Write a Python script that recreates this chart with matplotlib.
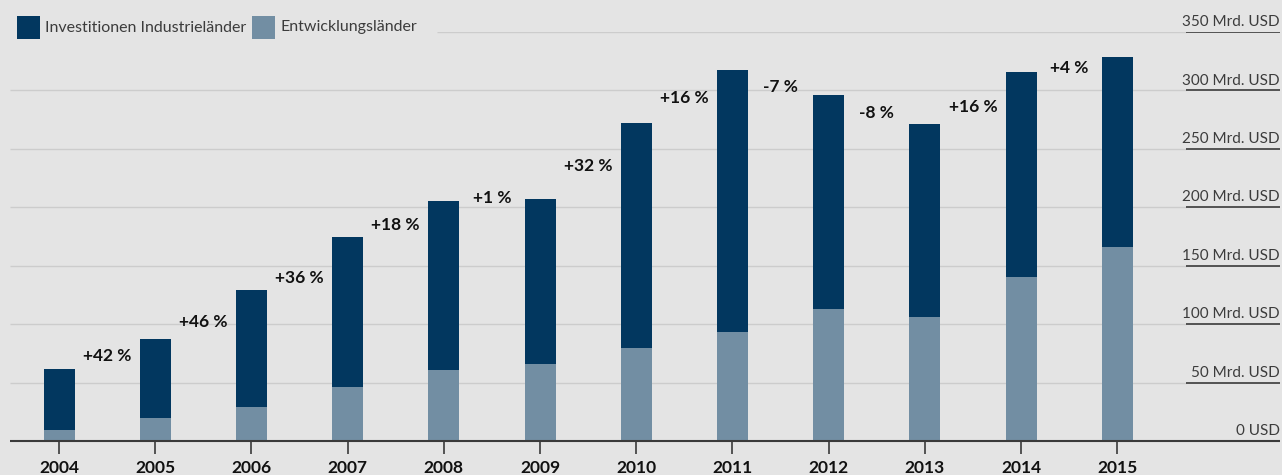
import matplotlib
matplotlib.use("Agg")
import matplotlib.pyplot as plt
from matplotlib.patches import Rectangle

plt.rcParams['font.family'] = ['Lato', 'DejaVu Sans']

years = ["2004", "2005", "2006", "2007", "2008", "2009", "2010", "2011", "2012", "2013", "2014", "2015"]
entwicklung = [9.4, 19.7, 29.1, 46.2, 60.8, 65.9, 79.6, 93.3, 113.0, 106.2, 140.4, 166.0]
industrie = [52.2, 67.6, 100.2, 128.5, 144.7, 141.3, 192.7, 224.3, 183.2, 165.2, 175.6, 162.8]
pct_labels = ["+42 %", "+46 %", "+36 %", "+18 %", "+1 %", "+32 %", "+16 %", "-7 %", "-8 %", "+16 %", "+4 %"]
pct_label_y = [72.8, 101.9, 139.6, 184.9, 208.0, 235.4, 293.7, 303.0, 280.8, 286.0, 319.3]
y_ticks = [0, 50, 100, 150, 200, 250, 300, 350]
y_tick_labels = ["0 USD", "50 Mrd. USD", "100 Mrd. USD", "150 Mrd. USD", "200 Mrd. USD",
                 "250 Mrd. USD", "300 Mrd. USD", "350 Mrd. USD"]
legend_labels = ["Investitionen Industrieländer", "Entwicklungsländer"]

BG = "#e4e4e4"
DARK = "#02375f"
LIGHT = "#728ea3"
GRID = "#cccccc"
AXIS = "#3a3a3a"

W, H = 1282, 475
fig = plt.figure(figsize=(W / 100, H / 100), dpi=100, facecolor=BG)

px_left, px_right = 8, 1280
px_base, px_top = 441, 32
ax = fig.add_axes([px_left / W, (H - px_base) / H, (px_right - px_left) / W, (px_base - px_top) / H])
ax.set_facecolor(BG)

c0, step = 59, 96.2
xmin = (px_left - c0) / step
xmax = (px_right - c0) / step
ax.set_xlim(xmin, xmax)
ax.set_ylim(0, 350)

grid_end = (1186 - c0) / step
grid_start = (10 - c0) / step
top_grid_start = (437 - c0) / step

for v, lab in zip(y_ticks, y_tick_labels):
    if v == 0:
        continue
    gs = top_grid_start if v == 350 else grid_start
    ax.plot([gs, grid_end], [v, v], color=GRID, lw=1.0, zorder=1, solid_capstyle='butt')
    ax.plot([grid_end, xmax], [v, v], color=AXIS, lw=1.2, zorder=1, solid_capstyle='butt')
for v, lab in zip(y_ticks, y_tick_labels):
    ax.text(xmax, v + 2.5, lab, ha='right', va='bottom', fontsize=11, color="#3c3c3c")

x = list(range(len(years)))
bw = 31 / step
ax.bar(x, entwicklung, width=bw, color=LIGHT, zorder=2)
ax.bar(x, industrie, width=bw, bottom=entwicklung, color=DARK, zorder=2)

for i, (lab, yv) in enumerate(zip(pct_labels, pct_label_y)):
    ax.text(i + 0.5, yv, lab, ha='center', va='center', fontsize=12.5, fontweight='bold', color="#111111")

ax.plot([grid_start, xmax], [0, 0], color=AXIS, lw=1.5, zorder=3, solid_capstyle='butt', clip_on=False)

for s in ax.spines.values():
    s.set_visible(False)
ax.set_yticks([])
ax.set_xticks(x)
ax.set_xticklabels(years, fontsize=12.5, fontweight='bold', color="#111111")
ax.tick_params(axis='x', direction='out', length=9, width=1.2, color=AXIS, pad=5)

# legend
for (lab, col, sx) in zip(legend_labels, [DARK, LIGHT], [17, 252]):
    fig.patches.append(Rectangle((sx / W, (H - 39) / H), 23 / W, 23 / H, transform=fig.transFigure,
                                 facecolor=col, edgecolor='none'))
    fig.text((sx + 28) / W, (H - 27.5) / H, lab, ha='left', va='center', fontsize=11.5, color="#3c3c3c")

fig.savefig("out.png", dpi=100, facecolor=BG)
